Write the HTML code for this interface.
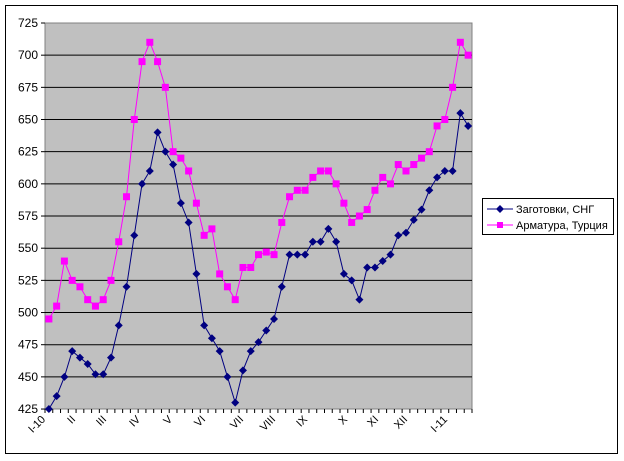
<!DOCTYPE html>
<html><head><meta charset="utf-8"><style>body{margin:0;background:#fff}svg{display:block}text{font-family:"Liberation Sans",sans-serif}</style></head>
<body>
<svg width="624" height="461" viewBox="0 0 624 461" xmlns="http://www.w3.org/2000/svg">
<rect x="5.5" y="5.5" width="612" height="448" fill="#fff" stroke="#000" stroke-width="1"/>
<rect x="45" y="23" width="427" height="386" fill="#c0c0c0" stroke="#808080" stroke-width="1"/>
<g id="grid" stroke="#000" stroke-width="1"></g>
<g id="ylab" font-size="12" text-anchor="end" fill="#000"></g>
<g id="ticks" stroke="#000" stroke-width="1"></g>
<g id="xlab" font-size="11" text-anchor="end" fill="#000"></g>
<g id="series"></g>
<rect x="482.5" y="198.5" width="131" height="36" fill="#fff" stroke="#000"/>
<line x1="487" y1="209" x2="513" y2="209" stroke="#000080" stroke-width="1"/>
<path d="M500 205 L504 209 L500 213 L496 209Z" fill="#000080"/>
<text x="516" y="213" font-size="11">Заготовки, СНГ</text>
<line x1="487" y1="225" x2="513" y2="225" stroke="#ff00ff" stroke-width="1"/>
<rect x="497" y="222" width="6" height="6" fill="#ff00ff"/>
<text x="516" y="229" font-size="11">Арматура, Турция</text>
</svg>
<script>
const ns="http://www.w3.org/2000/svg";
function el(p,t,a,txt){const e=document.createElementNS(ns,t);for(const k in a)e.setAttribute(k,a[k]);if(txt)e.textContent=txt;document.getElementById(p).appendChild(e);return e;}
const Y=v=>23+(725-v)/25*32.17;
for(let v=425;v<=725;v+=25){const y=Y(v);if(v>425&&v<725)el("grid","line",{x1:45,x2:472,y1:y,y2:y});el("grid","line",{x1:41,x2:45,y1:y,y2:y});el("ylab","text",{x:38,y:y+4},String(v));}
const N=55,dx=427/N;
for(let i=0;i<=N;i++){const x=45+i*dx;el("ticks","line",{x1:x,x2:x,y1:409,y2:413});}
const labs=[["I-10",46],["II",76],["III",107],["IV",141],["V",173],["VI",206],["VII",244],["VIII",276],["IX",308],["X",348],["XI",379],["XII",408],["I-11",448]];
labs.forEach(([t,x])=>el("xlab","text",{x:x,y:420,transform:`rotate(-45 ${x} 420)`},t));
const b=[425,435,450,470,465,460,452,452,465,490,520,560,600,610,640,625,615,585,570,530,490,480,470,450,430,455,470,477,486,495,520,545,545,545,555,555,565,555,530,525,510,535,535,540,545,560,562,572,580,595,605,610,610,655,645];
const p=[495,505,540,525,520,510,505,510,525,555,590,650,695,710,695,675,625,620,610,585,560,565,530,520,510,535,535,545,547,545,570,590,595,595,605,610,610,600,585,570,575,580,595,605,600,615,610,615,620,625,645,650,675,710,700];
const X=i=>45+dx/2+i*dx;
function series(d,c,mk){el("series","polyline",{points:d.map((v,i)=>X(i)+","+Y(v)).join(" "),fill:"none",stroke:c,"stroke-width":1});
d.forEach((v,i)=>{const x=X(i),y=Y(v);if(mk)el("series","rect",{x:x-3.5,y:y-3.5,width:7,height:7,fill:c});else el("series","path",{d:`M${x} ${y-4}L${x+4} ${y}L${x} ${y+4}L${x-4} ${y}Z`,fill:c});});}
series(p,"#ff00ff",true);series(b,"#000080",false);
</script>
</body></html>
